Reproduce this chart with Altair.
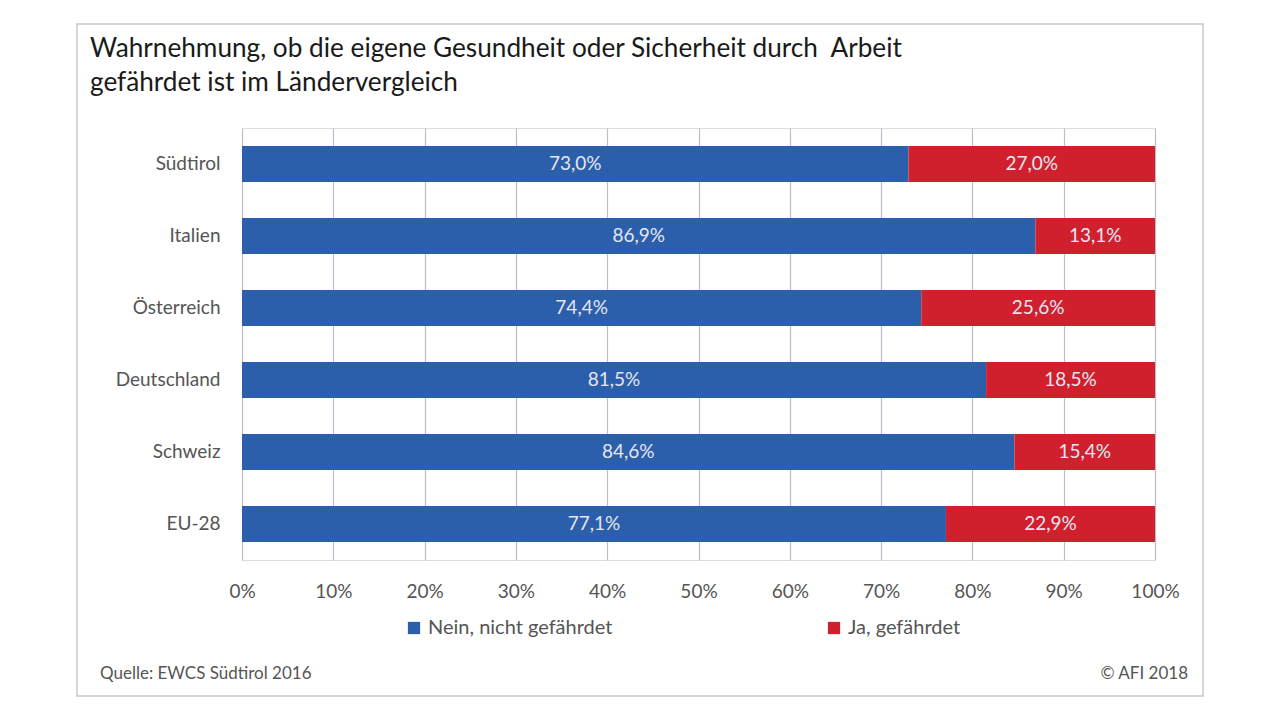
import altair as alt
import pandas as pd

countries = ["Südtirol", "Italien", "Österreich", "Deutschland", "Schweiz", "EU-28"]
nein = [73.0, 86.9, 74.4, 81.5, 84.6, 77.1]
ja = [27.0, 13.1, 25.6, 18.5, 15.4, 22.9]
series = ["Nein, nicht gefährdet", "Ja, gefährdet"]
colors = ["#2B5EAB", "#D0202E"]
title_lines = ["Wahrnehmung, ob die eigene Gesundheit oder Sicherheit durch\u00a0 Arbeit",
               "gefährdet ist im Ländervergleich"]

rows = []
for c, n, j in zip(countries, nein, ja):
    start = 0.0
    for i, (s, v) in enumerate(zip(series, [n, j])):
        rows.append({
            "Land": c, "Antwort": s, "ord": i,
            "start": start / 100, "end": (start + v) / 100,
            "mid": (start + v / 2) / 100,
            "label": f"{v:.1f}".replace(".", ",") + "%",
        })
        start += v
df = pd.DataFrame(rows)

FONT = "Lato"
W, H = 913, 432

y_enc = alt.Y("Land:N", sort=countries, title=None,
              scale=alt.Scale(paddingInner=0.5, paddingOuter=0.25),
              axis=alt.Axis(labelFontSize=19, labelColor="#555555", labelPadding=22,
                            ticks=False, domain=False, labelFont=FONT))

bars = alt.Chart(df).mark_bar().encode(
    x=alt.X("start:Q", scale=alt.Scale(domain=[0, 1]), title=None,
            axis=alt.Axis(format="%", values=[i / 10 for i in range(11)], grid=True,
                          gridColor="#B9C0CC", gridWidth=1.2, ticks=False, domain=False,
                          labelFontSize=19, labelColor="#555555", labelPadding=22,
                          labelFont=FONT, labelFlush=False)),
    x2="end:Q",
    y=y_enc,
    color=alt.Color("Antwort:N", sort=series,
                    scale=alt.Scale(domain=series, range=colors),
                    legend=alt.Legend(title=None, orient="none", legendX=162, legendY=490,
                                      direction="horizontal", columns=2, columnPadding=211,
                                      symbolType="square", symbolSize=150, symbolStrokeWidth=0,
                                      labelFontSize=20, labelColor="#555555", labelFont=FONT,
                                      labelLimit=400, symbolOpacity=1)),
)

labels = alt.Chart(df).mark_text(fontSize=19, color="#E4E7F0", font=FONT, baseline="middle").encode(
    x="mid:Q",
    y=alt.Y("Land:N", sort=countries),
    text="label:N",
)

frame = alt.Chart(pd.DataFrame({"a": [0]})).mark_rect(
    fill="transparent", stroke="#C8C8C8", strokeWidth=1.5
).encode(x=alt.value(-165), x2=alt.value(961), y=alt.value(-104), y2=alt.value(568))

title = alt.Chart(pd.DataFrame({"t": ["\n".join(title_lines)]})).mark_text(
    align="left", baseline="alphabetic", fontSize=26.2, color="#1a1a1a", font=FONT,
    lineBreak="\n", lineHeight=34
).encode(x=alt.value(-152), y=alt.value(-71), text="t:N")

src = alt.Chart(pd.DataFrame({"t": ["Quelle: EWCS Südtirol 2016"]})).mark_text(
    align="left", baseline="middle", fontSize=17, color="#555555", font=FONT
).encode(x=alt.value(-142), y=alt.value(546), text="t:N")

copy = alt.Chart(pd.DataFrame({"t": ["© AFI 2018"]})).mark_text(
    align="right", baseline="middle", fontSize=17, color="#555555", font=FONT
).encode(x=alt.value(946), y=alt.value(546), text="t:N")

chart = alt.layer(frame, bars, labels, title, src, copy).properties(
    width=W, height=H,
    autosize=alt.AutoSizeParams(type="none"),
    padding={"left": 234, "top": 120, "right": 100, "bottom": 150},
).configure_view(stroke=None).configure(background="white")

chart.save("out.html", embed_options={"renderer": "svg", "actions": False})
